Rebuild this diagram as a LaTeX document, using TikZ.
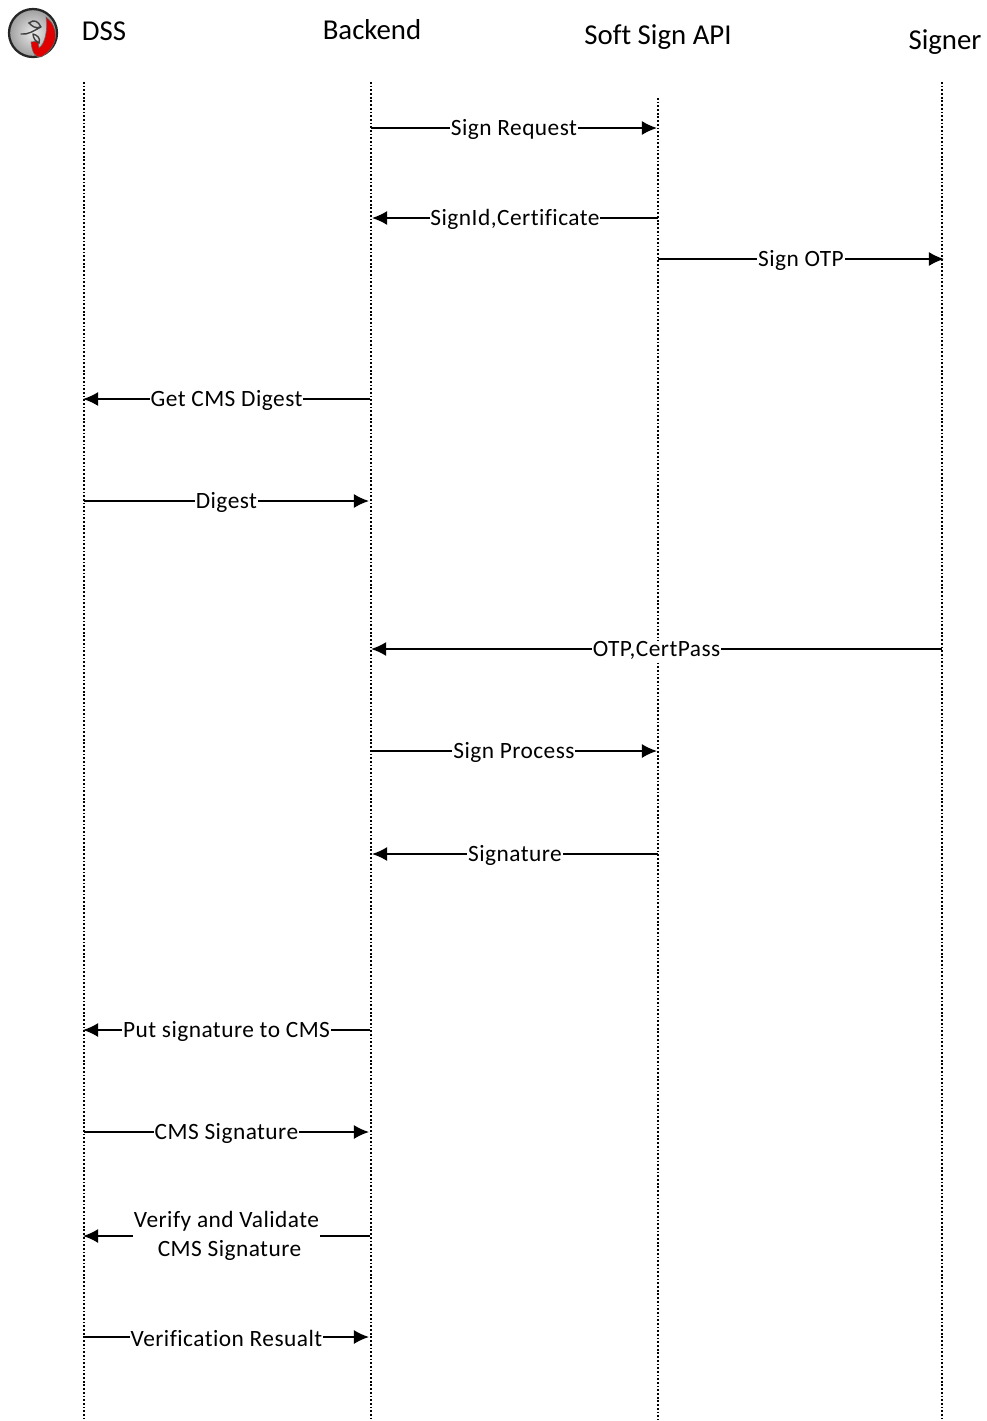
\documentclass[tikz,border=0pt]{standalone}
\usepackage{fontspec}
\setmainfont{Carlito}[Ligatures=NoCommon]
\usetikzlibrary{positioning,arrows.meta}

\tikzset{
  lifeline/.style={line width=0.85pt, dash pattern=on 1pt off 1.1pt},
  msg/.style={line width=0.8pt, -{Latex[length=8.6pt,width=8pt]}},
  msglabel/.style={fill=white, inner sep=0.5pt, yshift=-1pt,
    font=\fontsize{13.3}{16.5}\selectfont\addfontfeature{LetterSpace=2}, align=center},
  head/.style={inner sep=0pt, font=\fontsize{16.4}{20}\selectfont},
}

\begin{document}
\begin{tikzpicture}[x=0.02cm, y=-0.02cm]
\useasboundingbox (0,0) rectangle (987,1421);

% lifeline ends
\coordinate (dssTop) at (84,82);
\coordinate[right=5.74cm of dssTop] (backendTop);
\coordinate[right=11.48cm of dssTop] (softTopRow);
\coordinate[below=0.32cm of softTopRow] (softTop);
\coordinate[right=17.16cm of dssTop] (signerTop);
\coordinate (dssEnd) at (84,1420);
\coordinate[right=5.74cm of dssEnd] (backendEnd);
\coordinate[right=11.48cm of dssEnd] (softEnd);
\coordinate[right=17.16cm of dssEnd] (signerEnd);

\draw[lifeline] (dssTop) -- (dssEnd);
\draw[lifeline] (backendTop) -- (backendEnd);
\draw[lifeline] (softTop) -- (softEnd);
\draw[lifeline] (signerTop) -- (signerEnd);

% headers
\node[head] (dssHead) at (104,31) {DSS};
\node[head] (backendHead) at (372,30) {Backend};
\node[head] (softHead) at (658,37) {Soft Sign API};
\node[head] (signerHead) at (945,42) {Signer};

% logo
\shade[inner color=white!92!black, outer color=black!38, draw=black!85, line width=1.3pt] (33,33) circle (24);
\fill[red!88!black, draw=black!60, line width=0.3pt] (46,17) .. controls (59,27) and (60,46) .. (41,57)
  .. controls (35,58) and (32,52) .. (31,42) -- (38,41) -- (39,48) .. controls (45,44) and (48,30) .. (46,17) -- cycle;
\draw[black!75, line width=0.8pt, line cap=round] (21,34) .. controls (28,35) and (33,31) .. (41,27)
  (41,27) .. controls (38,21) and (34,19) .. (29,23) .. controls (32,26) and (35,29) .. (41,27)
  (33,34) .. controls (37,35) and (41,38) .. (39,43) .. controls (36,42) and (33,38) .. (33,34);

% messages, top to bottom
\coordinate (reqFrom) at (371,128);
\coordinate[right=5.72cm of reqFrom] (reqTo);
\coordinate (certFrom) at (658,218);
\coordinate[left=5.72cm of certFrom] (certTo);
\coordinate (otpFrom) at (658,259);
\coordinate[right=5.72cm of otpFrom] (otpTo);
\coordinate (getFrom) at (370,399);
\coordinate[left=5.74cm of getFrom] (getTo);
\coordinate (digFrom) at (84,501);
\coordinate[right=5.70cm of digFrom] (digTo);
\coordinate (passFrom) at (942,649);
\coordinate[left=11.42cm of passFrom] (passTo);
\coordinate (procFrom) at (371,751);
\coordinate[right=5.72cm of procFrom] (procTo);
\coordinate (sigFrom) at (658,854);
\coordinate[left=5.72cm of sigFrom] (sigTo);
\coordinate (putFrom) at (370,1030);
\coordinate[left=5.74cm of putFrom] (putTo);
\coordinate (cmsFrom) at (84,1132);
\coordinate[right=5.70cm of cmsFrom] (cmsTo);
\coordinate (verFrom) at (370,1236);
\coordinate[left=5.74cm of verFrom] (verTo);
\coordinate (resFrom) at (84,1337);
\coordinate[right=5.70cm of resFrom] (resTo);

\draw[msg] (reqFrom) -- node[msglabel] (reqLabel) {Sign Request} (reqTo);
\draw[msg] (certFrom) -- node[msglabel] (certLabel) {SignId,Certificate} (certTo);
\draw[msg] (otpFrom) -- node[msglabel] (otpLabel) {Sign OTP} (otpTo);
\draw[msg] (getFrom) -- node[msglabel] (getLabel) {Get CMS Digest} (getTo);
\draw[msg] (digFrom) -- node[msglabel] (digLabel) {Digest} (digTo);
\draw[msg] (passFrom) -- node[msglabel] (passLabel) {OTP,CertPass} (passTo);
\draw[msg] (procFrom) -- node[msglabel] (procLabel) {Sign Process} (procTo);
\draw[msg] (sigFrom) -- node[msglabel] (sigLabel) {Signature} (sigTo);
\draw[msg] (putFrom) -- node[msglabel] (putLabel) {Put signature to CMS} (putTo);
\draw[msg] (cmsFrom) -- node[msglabel] (cmsLabel) {CMS Signature} (cmsTo);
\draw[msg] (verFrom) -- node[msglabel, yshift=1pt] (verLabel) {Verify and Validate\\\hspace*{3.4pt}CMS Signature} (verTo);
\draw[msg] (resFrom) -- node[msglabel] (resLabel) {Verification Resualt} (resTo);
\end{tikzpicture}
\end{document}
